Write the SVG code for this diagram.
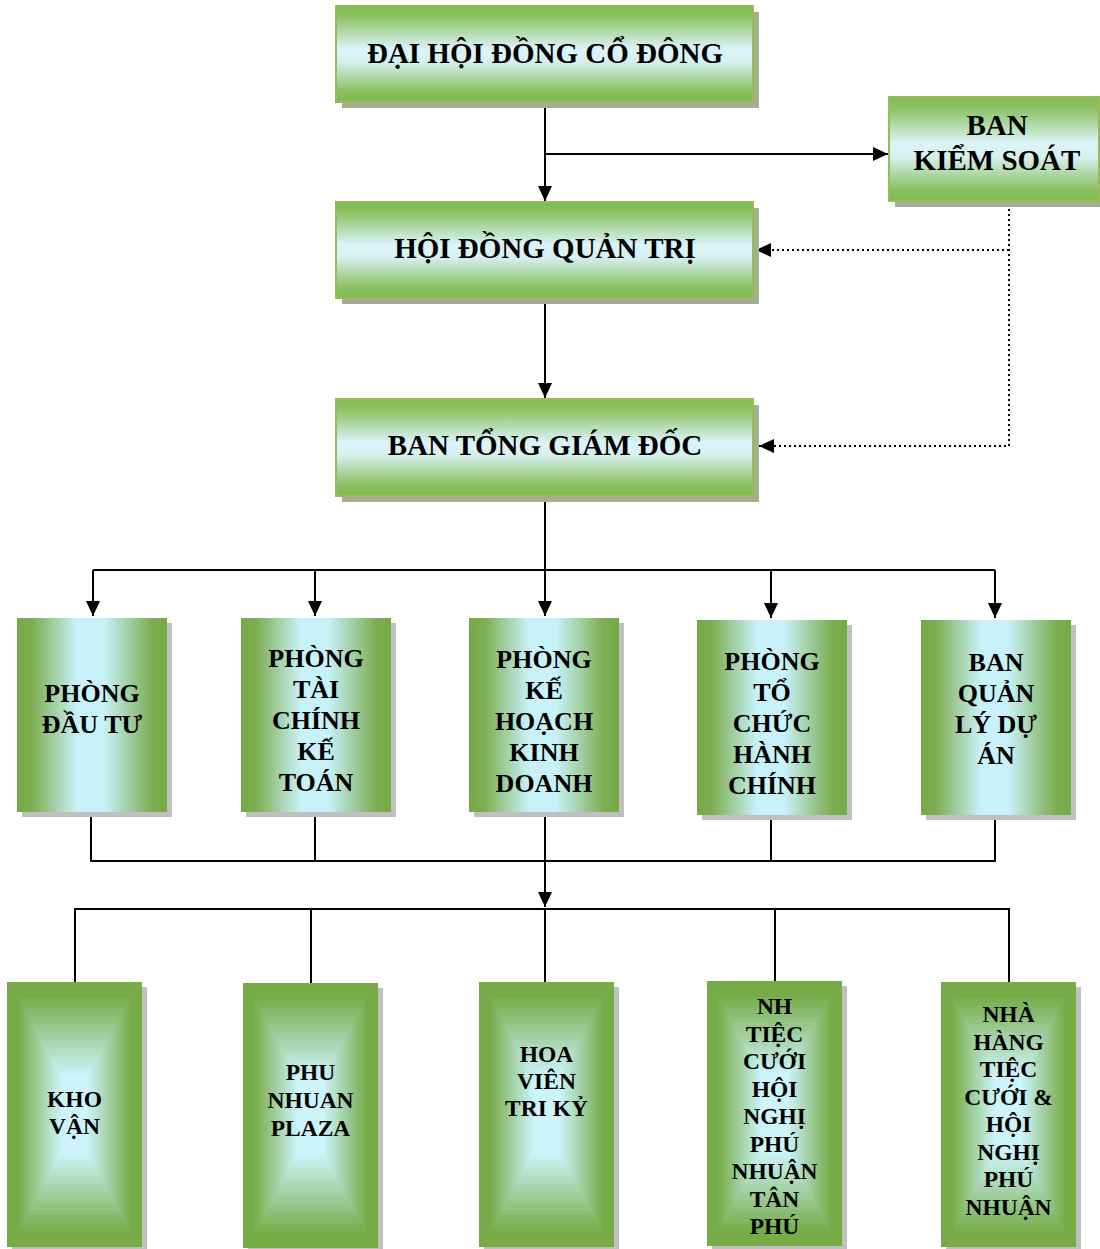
<svg xmlns="http://www.w3.org/2000/svg" xmlns:xlink="http://www.w3.org/1999/xlink" width="1100" height="1249" viewBox="0 0 1100 1249">
<style>
.t{font-family:"Liberation Serif","Times New Roman",serif;font-weight:bold;fill:#000;text-anchor:middle}
.t29{font-size:29px}
.t26{font-size:26px}
.t23{font-size:23.5px}
.ln{fill:none;stroke:#000;stroke-width:2}
.dot{fill:none;stroke:#000;stroke-width:2;stroke-dasharray:2 3}
.shA{fill:#a5ad92}
.shB{fill:#c0c0c0}
.boxA{fill:url(#gV);stroke:#9bbb59;stroke-width:2}
.boxB{fill:url(#gH)}
</style>
<defs>
<linearGradient id="gV" x1="0" y1="0" x2="0" y2="1">
<stop offset="0" stop-color="#7fba50"/>
<stop offset="0.12" stop-color="#8fc466"/>
<stop offset="0.45" stop-color="#dcf4fa"/>
<stop offset="0.58" stop-color="#d6f0ee"/>
<stop offset="0.88" stop-color="#8dc263"/>
<stop offset="1" stop-color="#7db94f"/>
</linearGradient>
<linearGradient id="gH" x1="0" y1="0" x2="1" y2="0">
<stop offset="0" stop-color="#76a947"/>
<stop offset="0.1" stop-color="#7dad50"/>
<stop offset="0.4" stop-color="#c8f2f9"/>
<stop offset="0.58" stop-color="#c8f2f9"/>
<stop offset="0.9" stop-color="#7dad50"/>
<stop offset="1" stop-color="#76a947"/>
</linearGradient>
<g id="rg">
<rect x="0" y="0" width="135" height="265" fill="#76ab47"/>
<rect x="12" y="16" width="111" height="233" fill="#7baf50"/>
<rect x="14.3" y="20.2" width="106.4" height="224.6" fill="#7fb35a"/>
<rect x="16.6" y="24.4" width="101.8" height="216.2" fill="#84b663"/>
<rect x="18.9" y="28.6" width="97.2" height="207.8" fill="#88ba6d"/>
<rect x="21.2" y="32.8" width="92.6" height="199.4" fill="#8dbe76"/>
<rect x="23.5" y="37" width="88" height="191" fill="#91c27f"/>
<rect x="25.8" y="41.2" width="83.4" height="182.6" fill="#96c689"/>
<rect x="28.1" y="45.4" width="78.8" height="174.2" fill="#9bca92"/>
<rect x="30.4" y="49.6" width="74.2" height="165.8" fill="#9fce9c"/>
<rect x="32.7" y="53.8" width="69.6" height="157.4" fill="#a4d1a5"/>
<rect x="35" y="58" width="65" height="149" fill="#a8d5af"/>
<rect x="37.3" y="62.2" width="60.4" height="140.6" fill="#add9b8"/>
<rect x="39.6" y="66.4" width="55.8" height="132.2" fill="#b2ddc2"/>
<rect x="41.9" y="70.6" width="51.2" height="123.8" fill="#b6e1cb"/>
<rect x="44.2" y="74.8" width="46.6" height="115.4" fill="#bbe5d4"/>
<rect x="46.5" y="79" width="42" height="107" fill="#bfe8de"/>
<rect x="48.8" y="83.2" width="37.4" height="98.6" fill="#c4ece7"/>
<rect x="51.1" y="87.4" width="32.8" height="90.2" fill="#c8f0f1"/>
<rect x="53.4" y="91.6" width="28.2" height="81.8" fill="#cdf4fa"/>
</g>
<marker id="ah" markerUnits="userSpaceOnUse" markerWidth="15" markerHeight="14" refX="15" refY="7" orient="auto">
<path d="M0,0 L15,7 L0,14 z" fill="#000"/>
</marker>
</defs>

<g id="connectors">
<path class="ln" d="M545,102 V201" marker-end="url(#ah)"/>
<path class="ln" d="M545,154 H888" marker-end="url(#ah)"/>
<path class="ln" d="M545,298 V398" marker-end="url(#ah)"/>
<path class="dot" d="M1009,209 V446 H759" marker-end="url(#ah)"/>
<path class="dot" d="M1009,250 H756" marker-end="url(#ah)"/>
<path class="ln" d="M545,497 V616" marker-end="url(#ah)"/>
<path class="ln" d="M93,570 H995"/>
<path class="ln" d="M93,570 V616" marker-end="url(#ah)"/>
<path class="ln" d="M315,570 V616" marker-end="url(#ah)"/>
<path class="ln" d="M771,570 V618" marker-end="url(#ah)"/>
<path class="ln" d="M995,570 V618" marker-end="url(#ah)"/>
<path class="ln" d="M91,812 V861 H995 V815"/>
<path class="ln" d="M315,812 V861"/>
<path class="ln" d="M771,815 V861"/>
<path class="ln" d="M545,812 V907" marker-end="url(#ah)"/>
<path class="ln" d="M75,982 V909 H1009 V982"/>
<path class="ln" d="M311,909 V983"/>
<path class="ln" d="M545,909 V982"/>
<path class="ln" d="M775,909 V981"/>
</g>

<g id="dai-hoi-dong-co-dong">
<rect class="shA" x="342" y="12" width="417" height="96"/>
<rect class="boxA" x="336" y="6" width="417" height="96"/>
<text class="t t29" x="545" y="63">ĐẠI HỘI ĐỒNG CỔ ĐÔNG</text>
</g>

<g id="ban-kiem-soat">
<rect class="shA" x="895" y="103" width="210" height="104"/>
<rect class="boxA" x="889" y="97" width="210" height="104"/>
<text class="t t29" x="997" y="135">BAN</text>
<text class="t t29" x="997" y="170">KIỂM SOÁT</text>
</g>

<g id="hoi-dong-quan-tri">
<rect class="shA" x="342" y="208" width="417" height="96"/>
<rect class="boxA" x="336" y="202" width="417" height="96"/>
<text class="t t29" x="545" y="258">HỘI ĐỒNG QUẢN TRỊ</text>
</g>

<g id="ban-tong-giam-doc">
<rect class="shA" x="342" y="405" width="417" height="97"/>
<rect class="boxA" x="336" y="399" width="417" height="97"/>
<text class="t t29" x="545" y="455">BAN TỔNG GIÁM ĐỐC</text>
</g>

<g id="phong-dau-tu">
<rect class="shB" x="22" y="623" width="150" height="194"/>
<rect class="boxB" x="17" y="618" width="150" height="194"/>
<text class="t t26" x="92" y="702">PHÒNG</text>
<text class="t t26" x="92" y="733">ĐẦU TƯ</text>
</g>

<g id="phong-tai-chinh-ke-toan">
<rect class="shB" x="246" y="623" width="150" height="194"/>
<rect class="boxB" x="241" y="618" width="150" height="194"/>
<text class="t t26" x="316" y="667">PHÒNG</text>
<text class="t t26" x="316" y="698">TÀI</text>
<text class="t t26" x="316" y="729">CHÍNH</text>
<text class="t t26" x="316" y="760">KẾ</text>
<text class="t t26" x="316" y="791">TOÁN</text>
</g>

<g id="phong-ke-hoach-kinh-doanh">
<rect class="shB" x="474" y="623" width="150" height="194"/>
<rect class="boxB" x="469" y="618" width="150" height="194"/>
<text class="t t26" x="544" y="668">PHÒNG</text>
<text class="t t26" x="544" y="699">KẾ</text>
<text class="t t26" x="544" y="730">HOẠCH</text>
<text class="t t26" x="544" y="761">KINH</text>
<text class="t t26" x="544" y="792">DOANH</text>
</g>

<g id="phong-to-chuc-hanh-chinh">
<rect class="shB" x="702" y="625" width="150" height="195"/>
<rect class="boxB" x="697" y="620" width="150" height="195"/>
<text class="t t26" x="772" y="670">PHÒNG</text>
<text class="t t26" x="772" y="701">TỔ</text>
<text class="t t26" x="772" y="732">CHỨC</text>
<text class="t t26" x="772" y="763">HÀNH</text>
<text class="t t26" x="772" y="794">CHÍNH</text>
</g>

<g id="ban-quan-ly-du-an">
<rect class="shB" x="926" y="625" width="150" height="195"/>
<rect class="boxB" x="921" y="620" width="150" height="195"/>
<text class="t t26" x="996" y="671">BAN</text>
<text class="t t26" x="996" y="702">QUẢN</text>
<text class="t t26" x="996" y="733">LÝ DỰ</text>
<text class="t t26" x="996" y="764">ÁN</text>
</g>

<g id="kho-van">
<rect class="shB" x="12" y="987" width="135" height="265"/>
<use xlink:href="#rg" href="#rg" x="7" y="982"/>
<text class="t t23" x="74.5" y="1107">KHO</text>
<text class="t t23" x="74.5" y="1134">VẬN</text>
</g>

<g id="phu-nhuan-plaza">
<rect class="shB" x="248" y="988" width="135" height="265"/>
<use xlink:href="#rg" href="#rg" x="243" y="983"/>
<text class="t t23" x="310.5" y="1080">PHU</text>
<text class="t t23" x="310.5" y="1108">NHUAN</text>
<text class="t t23" x="310.5" y="1136">PLAZA</text>
</g>

<g id="hoa-vien-tri-ky">
<rect class="shB" x="484" y="987" width="135" height="265"/>
<use xlink:href="#rg" href="#rg" x="479" y="982"/>
<text class="t t23" x="546.5" y="1062">HOA</text>
<text class="t t23" x="546.5" y="1089">VIÊN</text>
<text class="t t23" x="546.5" y="1116">TRI KỶ</text>
</g>

<g id="nh-tiec-cuoi-tan-phu">
<rect class="shB" x="712" y="986" width="135" height="266"/>
<use xlink:href="#rg" href="#rg" x="707" y="981"/>
<text class="t t23" x="774.5" y="1014">NH</text>
<text class="t t23" x="774.5" y="1041.5">TIỆC</text>
<text class="t t23" x="774.5" y="1069">CƯỚI</text>
<text class="t t23" x="774.5" y="1096.5">HỘI</text>
<text class="t t23" x="774.5" y="1124">NGHỊ</text>
<text class="t t23" x="774.5" y="1151.5">PHÚ</text>
<text class="t t23" x="774.5" y="1179">NHUẬN</text>
<text class="t t23" x="774.5" y="1206.5">TÂN</text>
<text class="t t23" x="774.5" y="1234">PHÚ</text>
</g>

<g id="nha-hang-tiec-cuoi-phu-nhuan">
<rect class="shB" x="946" y="987" width="135" height="265"/>
<use xlink:href="#rg" href="#rg" x="941" y="982"/>
<text class="t t23" x="1008.5" y="1022">NHÀ</text>
<text class="t t23" x="1008.5" y="1049.5">HÀNG</text>
<text class="t t23" x="1008.5" y="1077">TIỆC</text>
<text class="t t23" x="1008.5" y="1104.5">CƯỚI &amp;</text>
<text class="t t23" x="1008.5" y="1132">HỘI</text>
<text class="t t23" x="1008.5" y="1159.5">NGHỊ</text>
<text class="t t23" x="1008.5" y="1187">PHÚ</text>
<text class="t t23" x="1008.5" y="1214.5">NHUẬN</text>
</g>
</svg>
